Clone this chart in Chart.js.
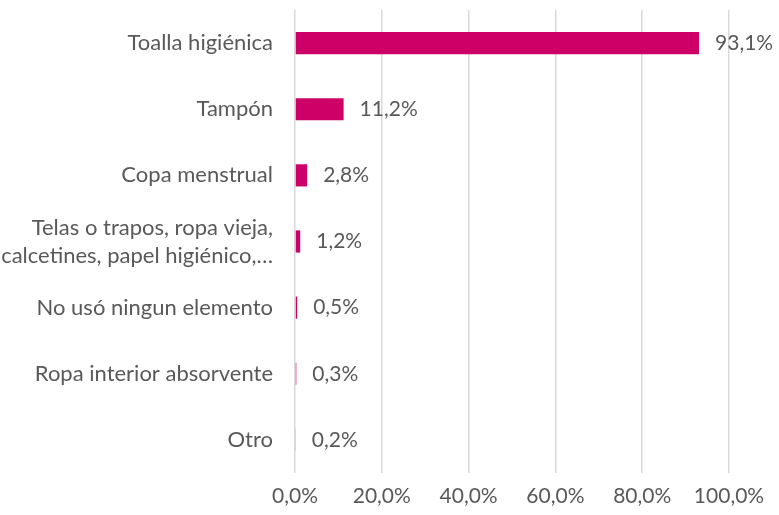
<!DOCTYPE html>
<html>
<head>
<meta charset="utf-8">
<script src="https://cdn.jsdelivr.net/npm/chart.js@4/dist/chart.umd.min.js"></script>
<style>
  html, body { margin: 0; padding: 0; background: #fff; }
  #wrap { width: 779px; height: 515px; position: relative; }
</style>
</head>
<body>
<div id="wrap"><canvas id="chart"></canvas></div>
<script>
// Data.
const categories = [
  "Toalla higiénica",
  "Tampón",
  "Copa menstrual",
  ["Telas o trapos, ropa vieja,", "calcetines, papel higiénico,…"],
  "No usó ningun elemento",
  "Ropa interior absorvente",
  "Otro"
];
const values = [93.1, 11.2, 2.8, 1.2, 0.5, 0.3, 0.2];
const xTicks = [0, 20, 40, 60, 80, 100];

const BAR = "#cc0066";
const TEXT = "#595959";
const GRID = "#d9d9d9";
const FONT = 'Lato, "Open Sans", sans-serif';

// "93,1%" style: comma decimal, as in the source.
const pct = v => v.toFixed(1).replace(".", ",") + "%";

// Value labels just past the end of each bar.
const valueLabels = {
  id: "valueLabels",
  afterDatasetsDraw(chart) {
    const ctx = chart.ctx;
    const meta = chart.getDatasetMeta(0);
    ctx.save();
    ctx.font = "21px " + FONT;
    ctx.fillStyle = TEXT;
    ctx.textAlign = "left";
    ctx.textBaseline = "middle";
    meta.data.forEach((bar, i) => {
      ctx.fillText(pct(values[i]), bar.x + 16, bar.y);
    });
    ctx.restore();
  }
};

new Chart(document.getElementById("chart"), {
  type: "bar",
  data: {
    labels: categories,
    datasets: [{
      data: values,
      backgroundColor: BAR,
      borderWidth: 0,
      categoryPercentage: 0.335,
      barPercentage: 1
    }]
  },
  options: {
    indexAxis: "y",
    responsive: true,
    maintainAspectRatio: false,
    animation: false,
    layout: { padding: { top: 10, right: 50, left: 0, bottom: 0 } },
    plugins: { legend: { display: false }, tooltip: { enabled: false } },
    scales: {
      x: {
        min: 0,
        max: 100,
        afterBuildTicks: axis => { axis.ticks = xTicks.map(v => ({ value: v })); },
        afterFit: axis => { axis.height = 42; },
        grid: { color: GRID, lineWidth: 1.5, drawTicks: false },
        border: { display: false },
        ticks: {
          color: TEXT,
          padding: 11,
          maxRotation: 0,
          font: { family: FONT, size: 21 },
          callback: v => pct(v)
        }
      },
      y: {
        afterFit: axis => {
          axis.width = 295;
          axis.paddingTop = 0;
          axis.paddingBottom = 0;
        },
        grid: { display: false, drawTicks: false },
        border: { display: false },
        ticks: {
          color: TEXT,
          padding: 22,
          font: { family: FONT, size: 22, lineHeight: 1.27 }
        }
      }
    }
  },
  plugins: [valueLabels]
});
</script>
</body>
</html>
